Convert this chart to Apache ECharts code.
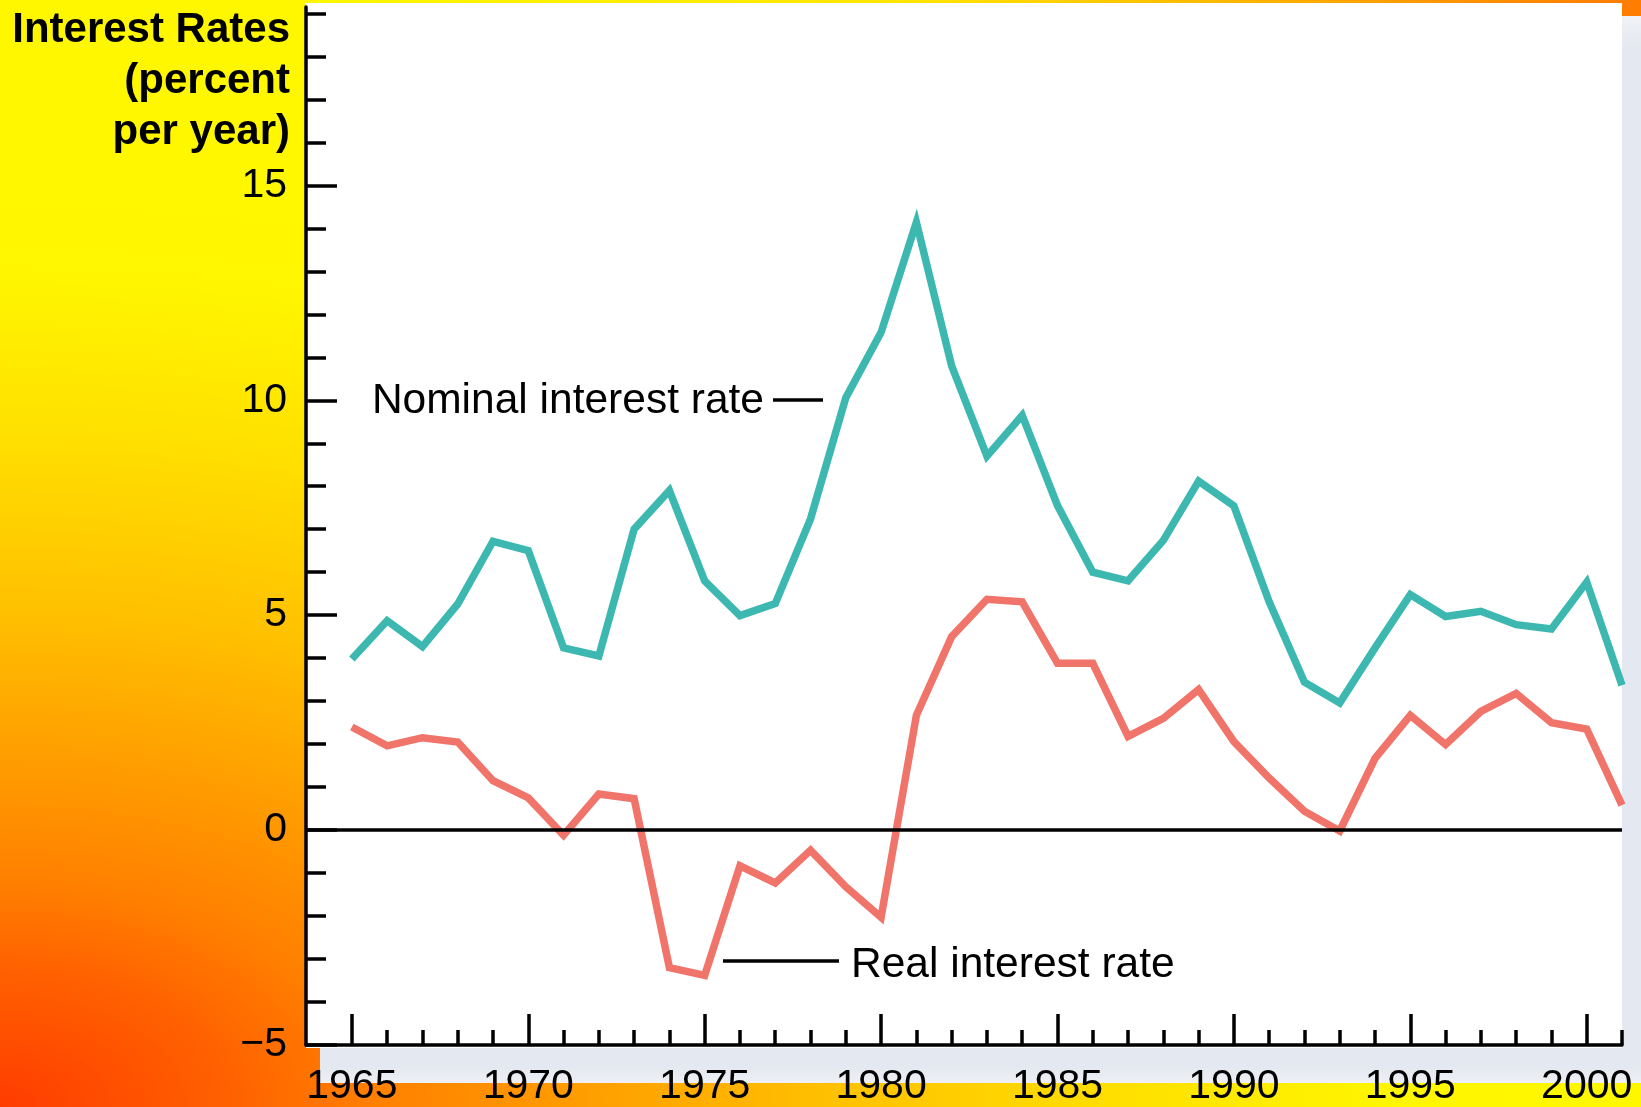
<!DOCTYPE html>
<html>
<head>
<meta charset="utf-8">
<script src="https://cdn.jsdelivr.net/npm/echarts@6/dist/echarts.min.js"></script>
<style>
  html, body { margin: 0; padding: 0; }
  #wrap { position: relative; width: 1641px; height: 1107px; overflow: hidden;
    background: radial-gradient(ellipse 1500px 900px at 0% 100%,
      #ff3c00 0%, #ff6000 15%, #ff8000 25%, #ffa000 40%, #ffc000 55%, #ffe000 75%, #fff500 92%, #fff700 100%); }
  #topstrip { position: absolute; left: 300px; top: 0; width: 1341px; height: 16px;
    background: linear-gradient(to right, #fff700 0px, #ffe600 600px, #ffb400 950px, #ff9400 1150px, #ff7c00 1341px); }
  #shadow { position: absolute; left: 320px; top: 16px; width: 1321px; height: 1067px;
    background: linear-gradient(to bottom, #f0f2f6 0px, #e4e8f0 30px, #e4e8f0 1052px, #eef0f5 1067px); }
  #panel { position: absolute; left: 306px; top: 3px; width: 1316px; height: 1045px; background: #ffffff; }
  #chart { position: absolute; left: 0; top: 0; width: 1641px; height: 1107px; }
</style>
</head>
<body>
<div id="wrap">
  <div id="topstrip"></div>
  <div id="shadow"></div>
  <div id="panel"></div>
  <div id="chart"></div>
</div>
<script>
// ---- data ----
const years = [1965, 1966, 1967, 1968, 1969, 1970, 1971, 1972, 1973, 1974,
               1975, 1976, 1977, 1978, 1979, 1980, 1981, 1982, 1983, 1984,
               1985, 1986, 1987, 1988, 1989, 1990, 1991, 1992, 1993, 1994,
               1995, 1996, 1997, 1998, 1999, 2000, 2001];
const nominalRate = [3.98, 4.87, 4.27, 5.26, 6.72, 6.50, 4.24, 4.05, 7.00, 7.90,
                     5.80, 4.99, 5.27, 7.24, 10.06, 11.58, 14.14, 10.80, 8.70, 9.65,
                     7.55, 6.00, 5.80, 6.74, 8.12, 7.54, 5.31, 3.44, 2.96, 4.24,
                     5.48, 4.97, 5.09, 4.78, 4.68, 5.77, 3.37];
const realRate = [2.40, 1.96, 2.15, 2.05, 1.15, 0.75, -0.12, 0.84, 0.73, -3.20,
                  -3.38, -0.83, -1.23, -0.47, -1.32, -2.03, 2.67, 4.50, 5.37, 5.31,
                  3.88, 3.88, 2.18, 2.60, 3.27, 2.06, 1.21, 0.44, -0.02, 1.67,
                  2.67, 1.99, 2.76, 3.18, 2.50, 2.35, 0.58];
const xMajorTicks = [1965, 1970, 1975, 1980, 1985, 1990, 1995, 2000];
const xMinorTicks = [1966, 1967, 1968, 1969, 1971, 1972, 1973, 1974, 1976, 1977, 1978, 1979,
                     1981, 1982, 1983, 1984, 1986, 1987, 1988, 1989, 1991, 1992, 1993, 1994,
                     1996, 1997, 1998, 1999, 2001];
const yMajorTicks = [-5, 0, 5, 10, 15];
const yMinorTicks = [-4, -3, -2, -1, 1, 2, 3, 4, 6, 7, 8, 9, 11, 12, 13, 14, 16, 17, 18, 19];
const labels = { nominal: 'Nominal interest rate', real: 'Real interest rate',
                 yTitle: 'Interest Rates\n(percent\nper year)' };

// ---- chart ----
const FONT = '"Liberation Sans", Arial, Helvetica, sans-serif';
const chart = echarts.init(document.getElementById('chart'), null, { renderer: 'canvas' });
const X_MIN = 1963.7, X_MAX = 2001, Y_MIN = -5, Y_MAX = 19.15;

const axisLineStyle = { color: '#000', width: 3.5 };
const tickStyle = { color: '#000', width: 3.5 };
const option = {
  animation: false,
  backgroundColor: 'transparent',
  grid: { left: 306, right: 19, top: 7, bottom: 61.5, containLabel: false },
  xAxis: [
    {
      type: 'value', min: X_MIN, max: X_MAX, position: 'bottom',
      axisLine: { show: true, onZero: false, lineStyle: axisLineStyle },
      axisTick: { show: true, inside: true, length: 31, lineStyle: tickStyle, customValues: xMajorTicks },
      axisLabel: { show: true, customValues: xMajorTicks, color: '#000', fontSize: 41, fontFamily: FONT, margin: 21,
                   formatter: v => String(Math.round(v)) },
      splitLine: { show: false }
    },
    {
      type: 'value', min: X_MIN, max: X_MAX, position: 'bottom',
      axisLine: { show: false, onZero: false },
      axisTick: { show: true, inside: true, length: 15, lineStyle: tickStyle, customValues: xMinorTicks },
      axisLabel: { show: false },
      splitLine: { show: false }
    }
  ],
  yAxis: [
    {
      type: 'value', min: Y_MIN, max: Y_MAX, position: 'left',
      axisLine: { show: true, onZero: false, lineStyle: axisLineStyle },
      axisTick: { show: true, inside: true, length: 31, lineStyle: tickStyle, customValues: yMajorTicks },
      axisLabel: { show: true, customValues: yMajorTicks, color: '#000', fontSize: 41, fontFamily: FONT, margin: 19,
                   padding: [10, 0, 0, 0],
                   formatter: v => (v < 0 ? '\u2212' + Math.abs(v) : String(v)) },
      splitLine: { show: false }
    },
    {
      type: 'value', min: Y_MIN, max: Y_MAX, position: 'left',
      axisLine: { show: false, onZero: false },
      axisTick: { show: true, inside: true, length: 20, lineStyle: tickStyle, customValues: yMinorTicks },
      axisLabel: { show: false },
      splitLine: { show: false }
    }
  ],
  series: [
    {
      name: labels.nominal, type: 'line', xAxisIndex: 0, yAxisIndex: 0, z: 2,
      data: years.map((y, i) => [y, nominalRate[i]]),
      showSymbol: false, symbol: 'none',
      lineStyle: { color: '#3db8b1', width: 7.5, join: 'miter' },
      markLine: {
        silent: true, symbol: 'none', animation: false,
        label: { show: false },
        lineStyle: { color: '#000', width: 3.5, type: 'solid' },
        data: [{ yAxis: 0 }]
      }
    },
    {
      name: labels.real, type: 'line', xAxisIndex: 0, yAxisIndex: 0, z: 3,
      data: years.map((y, i) => [y, realRate[i]]),
      showSymbol: false, symbol: 'none',
      lineStyle: { color: '#f0746a', width: 7.5, join: 'miter' }
    }
  ],
  graphic: [
    { type: 'text', x: 290, y: 81, style: { text: labels.yTitle, font: 'bold 42px ' + FONT, fill: '#000',
      align: 'right', verticalAlign: 'middle', lineHeight: 51 } },
    { type: 'text', x: 764, y: 401, style: { text: labels.nominal, font: '42.5px ' + FONT, fill: '#000',
      align: 'right', verticalAlign: 'middle' } },
    { type: 'line', shape: { x1: 773, y1: 400, x2: 823, y2: 400 }, style: { stroke: '#000', lineWidth: 3.5 } },
    { type: 'line', shape: { x1: 723, y1: 961, x2: 839, y2: 961 }, style: { stroke: '#000', lineWidth: 3.5 } },
    { type: 'text', x: 851, y: 965, style: { text: labels.real, font: '42.5px ' + FONT, fill: '#000',
      align: 'left', verticalAlign: 'middle' } }
  ]
};
chart.setOption(option);
</script>
</body>
</html>
